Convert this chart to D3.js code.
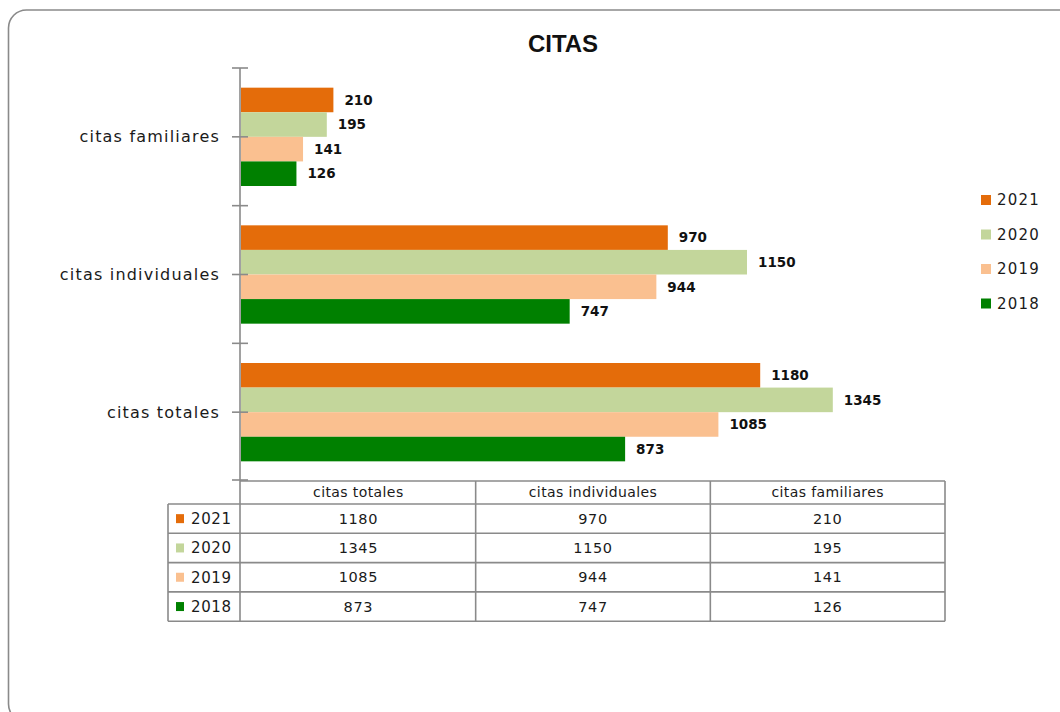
<!DOCTYPE html>
<html lang="es">
<head>
<meta charset="utf-8">
<title>CITAS</title>
<script src="https://cdn.jsdelivr.net/npm/d3@7"></script>
<style>
  body { margin: 0; background: #fff; }
  svg { display: block; }
</style>
</head>
<body>
<div id="wrapper"></div>
<script>
// data
const categories = ["citas totales", "citas individuales", "citas familiares"]
const years = ["2021", "2020", "2019", "2018"]
const values2021 = [1180, 970, 210]
const values2020 = [1345, 1150, 195]
const values2019 = [1085, 944, 141]
const values2018 = [873, 747, 126]
const seriesColors = ["#E46C0A", "#C3D69B", "#FAC090", "#008000"]
const xMax = 1600

const series = [values2021, values2020, values2019, values2018].map((vals, i) => ({
    year: years[i],
    color: seriesColors[i],
    values: vals
}))

const width = 1060
const height = 712
const plot = { left: 241, right: 945, top: 68, bottom: 481 }

const svg = d3.select("#wrapper")
    .append("svg")
    .attr("width", width)
    .attr("height", height)

// frame
svg.append("rect")
    .attr("x", 8.5)
    .attr("y", 10)
    .attr("width", 1068)
    .attr("height", 712)
    .attr("rx", 18)
    .attr("fill", "#fff")
    .attr("stroke", "#8a8a8a")
    .attr("stroke-width", 1.6)

// title
svg.append("text")
    .attr("x", 563)
    .attr("y", 52)
    .attr("text-anchor", "middle")
    .style("font-family", "'Liberation Sans', Arial, sans-serif")
    .style("font-weight", "bold")
    .style("font-size", "24px")
    .style("fill", "#111")
    .text("CITAS")

const x = d3.scaleLinear()
    .domain([0, xMax])
    .range([plot.left, plot.right])

// first category at bottom like excel
const y = d3.scaleBand()
    .domain(categories.slice().reverse())
    .range([plot.top, plot.bottom])
    .paddingInner(0)
    .paddingOuter(0)

const yInner = d3.scaleBand()
    .domain(years)
    .range([0, y.bandwidth()])
    .paddingInner(0)
    .paddingOuter(0.8)

// bars
const groups = svg.append("g")
    .selectAll("g")
    .data(series)
    .join("g")
    .attr("fill", d => d.color)

groups.selectAll("rect")
    .data(d => d.values.map((v, i) => ({ year: d.year, cat: categories[i], value: v })))
    .join("rect")
    .attr("x", x(0))
    .attr("y", d => y(d.cat) + yInner(d.year))
    .attr("width", d => x(d.value) - x(0))
    .attr("height", yInner.bandwidth())

// value labels
groups.selectAll("text")
    .data(d => d.values.map((v, i) => ({ year: d.year, cat: categories[i], value: v })))
    .join("text")
    .attr("x", d => x(d.value) + 11)
    .attr("y", d => y(d.cat) + yInner(d.year) + yInner.bandwidth() / 2)
    .attr("dy", "0.35em")
    .style("font-family", "'DejaVu Sans', sans-serif")
    .style("font-weight", "bold")
    .style("font-size", "13.5px")
    .style("fill", "#111")
    .text(d => d.value)

// axis line and tick marks
const axisG = svg.append("g")
    .attr("stroke", "#8a8a8a")
    .attr("stroke-width", 1.6)

axisG.append("line")
    .attr("x1", plot.left - 1).attr("x2", plot.left - 1)
    .attr("y1", plot.top).attr("y2", plot.bottom)

const tickYs = []
categories.slice().reverse().forEach(c => {
    tickYs.push(y(c), y(c) + y.bandwidth() / 2)
})
tickYs.push(plot.bottom - 1)

axisG.selectAll(".tick")
    .data(tickYs)
    .join("line")
    .attr("class", "tick")
    .attr("x1", plot.left - 9).attr("x2", plot.left + 7)
    .attr("y1", d => d).attr("y2", d => d)

// category labels
svg.append("g")
    .selectAll("text")
    .data(categories)
    .join("text")
    .attr("x", 220)
    .attr("y", d => y(d) + y.bandwidth() / 2)
    .attr("dy", "0.35em")
    .attr("text-anchor", "end")
    .style("font-family", "'DejaVu Sans', sans-serif")
    .style("font-size", "16px")
    .style("letter-spacing", "1.2px")
    .style("fill", "#1a1a1a")
    .text(d => d)

// legend
const legend = svg.append("g")
    .selectAll("g")
    .data(series)
    .join("g")
    .attr("transform", (d, i) => `translate(981, ${200 + i * 34.5})`)

legend.append("rect")
    .attr("x", 0)
    .attr("y", -5)
    .attr("width", 10)
    .attr("height", 10)
    .attr("fill", d => d.color)

legend.append("text")
    .attr("x", 16)
    .attr("dy", "0.36em")
    .style("font-family", "'DejaVu Sans', sans-serif")
    .style("font-size", "15px")
    .style("letter-spacing", "1.2px")
    .style("fill", "#1a1a1a")
    .text(d => d.year)

// data table under the chart
const table = { left: 168, headerTop: 481, headerBottom: 504, rowH: 29.3 }
const colX = d3.range(categories.length + 1).map(i => x(xMax * i / categories.length))
const rowTop = i => table.headerBottom + i * table.rowH
const tableBottom = rowTop(years.length)

const tableG = svg.append("g")
const gridG = tableG.append("g")
    .attr("stroke", "#8a8a8a")
    .attr("stroke-width", 1.6)
    .attr("fill", "none")

// header frame
gridG.append("line")
    .attr("x1", plot.left - 1).attr("x2", colX[3])
    .attr("y1", table.headerTop).attr("y2", table.headerTop)
// horizontal lines
d3.range(years.length + 1).forEach(i => {
    gridG.append("line")
        .attr("x1", table.left).attr("x2", colX[3])
        .attr("y1", rowTop(i)).attr("y2", rowTop(i))
})
// vertical lines
gridG.append("line")
    .attr("x1", table.left).attr("x2", table.left)
    .attr("y1", table.headerBottom).attr("y2", tableBottom)
colX.forEach((cx, i) => {
    gridG.append("line")
        .attr("x1", i === 0 ? cx - 1 : cx).attr("x2", i === 0 ? cx - 1 : cx)
        .attr("y1", table.headerTop).attr("y2", tableBottom)
})

const cellFont = sel => sel
    .style("font-family", "'DejaVu Sans', sans-serif")
    .style("font-size", "14.5px")
    .style("letter-spacing", "0.6px")
    .style("fill", "#1a1a1a")

tableG.selectAll(".head")
    .data(categories)
    .join("text")
    .attr("class", "head")
    .attr("x", (d, i) => (colX[i] + colX[i + 1]) / 2)
    .attr("y", (table.headerTop + table.headerBottom) / 2)
    .attr("dy", "0.35em")
    .attr("text-anchor", "middle")
    .call(cellFont)
    .style("font-size", "14px")
    .style("letter-spacing", "0.4px")
    .text(d => d)

const rows = tableG.selectAll(".row")
    .data(series)
    .join("g")
    .attr("class", "row")
    .attr("transform", (d, i) => `translate(0, ${rowTop(i) + table.rowH / 2})`)

rows.append("rect")
    .attr("x", table.left + 8)
    .attr("y", -4.5)
    .attr("width", 8)
    .attr("height", 9)
    .attr("fill", d => d.color)

rows.append("text")
    .attr("x", table.left + 23)
    .attr("dy", "0.35em")
    .call(cellFont)
    .style("font-size", "15px")
    .text(d => d.year)

rows.selectAll(".val")
    .data(d => d.values)
    .join("text")
    .attr("class", "val")
    .attr("x", (d, i) => (colX[i] + colX[i + 1]) / 2)
    .attr("dy", "0.35em")
    .attr("text-anchor", "middle")
    .call(cellFont)
    .text(d => d)
</script>
</body>
</html>
